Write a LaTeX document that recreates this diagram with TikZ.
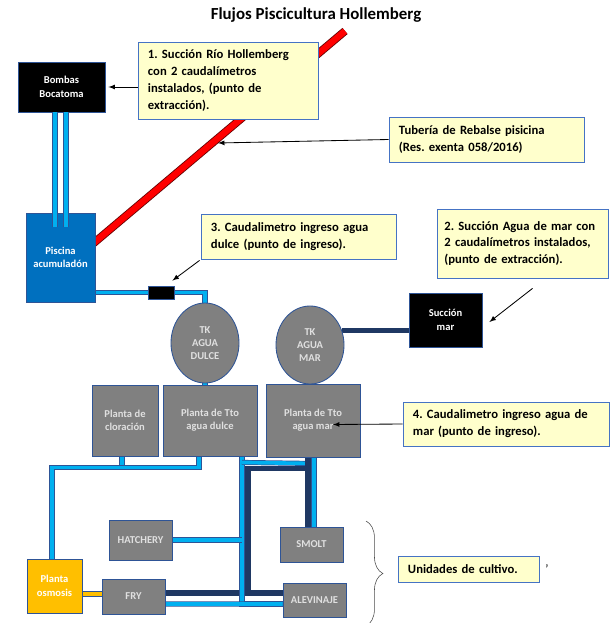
\documentclass[tikz,border=0pt]{standalone}
\usepackage{fontspec}
\setmainfont{Carlito}
\usepackage{tikz}
\usetikzlibrary{arrows}
\usetikzlibrary{calc}
\usetikzlibrary{backgrounds}
\usetikzlibrary{shapes.geometric}
\usetikzlibrary{decorations.pathreplacing}
\frenchspacing
\definecolor{mcallout}{rgb}{1, 1, 0.8}
\definecolor{mframe}{rgb}{0.27, 0.45, 0.77}
\definecolor{mgrey}{rgb}{0.5, 0.5, 0.5}
\definecolor{mlight}{rgb}{0, 0.69, 0.94}
\definecolor{mnavy}{rgb}{0.12, 0.22, 0.39}
\definecolor{mpool}{rgb}{0, 0.44, 0.75}
\definecolor{mgold}{rgb}{1, 0.75, 0}
\definecolor{medge}{rgb}{0.18, 0.33, 0.59}
\definecolor{mtext}{rgb}{0.88, 0.88, 0.88}
\tikzset{unit/.style = {draw = medge, fill = mgrey, text = mtext, line width = 0.6pt, inner sep = 0, align = center, font = \fontsize{7.5}{9.5}\selectfont\bfseries}}
\tikzset{tank/.style = {unit, ellipse}}
\tikzset{callout/.style = {draw = mframe, fill = mcallout, line width = 0.6pt, inner sep = 0, align = left, font = \fontsize{9}{12}\selectfont\bfseries}}
\tikzset{lpipe/.style = {draw = medge, line width = 0.5pt, double = mlight, double distance = 2.6pt}}
\tikzset{ypipe/.style = {draw = medge, line width = 0.5pt, double = mgold, double distance = 2.6pt}}
\tikzset{npipe/.style = {draw = mnavy, line width = 3.6pt}}
\tikzset{rpipe/.style = {draw = black!60!red, line width = 0.6pt, double = red, double distance = 4.5pt}}
\tikzset{arr/.style = {-latex, semithick}}

\begin{document}
\begin{tikzpicture}[x = 0.025cm, y = -0.025cm]
      \path [use as bounding box] (0, 0) rectangle (610, 623);
      \node [font = \fontsize{12}{14}\selectfont\bfseries] (title) at (316, 15) {Flujos Piscicultura Hollemberg};

      % pumps, pool, meter and tanks
      \node [unit, fill = black, text = white, minimum width = 2.175cm, minimum height = 1.25cm] (bombas) at (61.5, 87) {Bombas\\Bocatoma};
      \node [unit, fill = mpool, text = white, minimum width = 1.725cm, minimum height = 2.225cm] (piscina) at (60.5, 257.5) {Piscina\\acumuladón};
      \node [unit, fill = black, minimum width = 0.65cm, minimum height = 0.325cm] (meter) at (161, 292.5) {};
      \node [tank, minimum width = 1.7cm, minimum height = 2cm] (tkdulce) at (205, 343) {TK\\AGUA\\DULCE};
      \node [tank, minimum width = 1.7cm, minimum height = 1.95cm] (tkmar) at (310, 345) {TK\\AGUA\\MAR};
      \node [unit, fill = black, text = white, minimum width = 1.825cm, minimum height = 1.35cm] (succion) at (445.5, 320) {Succión\\mar};

      % treatment plants
      \node [unit, minimum width = 1.65cm, minimum height = 1.775cm] (cloracion) at (125, 420.5) {Planta de\\cloración};
      \node [unit, minimum width = 2.35cm, minimum height = 1.775cm] (tdulce) at (210, 420.5) {Planta de Tto\\agua dulce};
      \node [unit, minimum width = 2.35cm, minimum height = 1.825cm] (tmar) at (313, 420.5) {Planta de Tto\\agua mar};

      % culture units
      \node [unit, fill = mgold, text = white, minimum width = 1.375cm, minimum height = 1.35cm] (osmosis) at (54.5, 586) {Planta\\osmosis};
      \node [unit, minimum width = 1.575cm, minimum height = 1cm] (hatchery) at (140.5, 540) {HATCHERY};
      \node [unit, minimum width = 1.575cm, minimum height = 0.875cm] (fry) at (133.5, 596.5) {FRY};
      \node [unit, minimum width = 1.575cm, minimum height = 0.875cm] (smolt) at (311.5, 544.5) {SMOLT};
      \node [unit, minimum width = 1.575cm, minimum height = 0.85cm] (alevinaje) at (314.5, 600) {ALEVINAJE};

      % junctions
      \coordinate (rtop) at (345, 31);
      \coordinate (vdulce) at ($(tdulce.south)+(32, 0)$);
      \coordinate (nm) at ($(tmar.south)+(-5, 0)$);
      \coordinate (lm) at ($(tmar.south)+(1, 0)$);

      \begin{scope}[on background layer]
        \fill [white] (0, 0) rectangle (610, 623);
        \draw [rpipe] ($(piscina.east)+(-4, -12.5)$) -- (rtop);
        \draw [lpipe] (piscina.east |- meter.west) -- (meter.west);
        \draw [lpipe] (meter.east) -| (tkdulce.north);
        \draw [lpipe] (tkdulce.south) -- (tkdulce.south |- tdulce.north);
        \draw [npipe] (tkmar.south) -- (tkmar.south |- tmar.north);
        \draw [npipe] (tkmar.25) -- (succion.west |- tkmar.25);
        \draw [lpipe] ($(cloracion.south)+(-3, 0)$) -- ++(0, 11);
        \draw [lpipe] ($(tdulce.south)+(-11, 0)$) -- ++(0, 11) -| ($(osmosis.north)+(-2.5, 0)$);
        \draw [ypipe] ($(osmosis.east |- fry.west)+(0, -2.5)$) -- ($(fry.west)+(0, -2.5)$);
        \draw [npipe] ($(nm)+(0, 11)$) -| ($(fry.east -| vdulce)+(6, -3.5)$);
        \draw [npipe] ($(fry.east)+(0, -3.5)$) -- ($(alevinaje.west)+(0, -7)$);
        \draw [lpipe] (vdulce) |- ($(alevinaje.west)+(0, 4)$);
        \draw [lpipe] ($(fry.east)+(0, 7.5)$) -- ($(alevinaje.west)+(0, 4)$);
        \draw [lpipe] (hatchery.east) -- (hatchery.east -| vdulce);
        \draw [lpipe] ($(vdulce)+(0, 6)$) -- ($(nm)+(2, 6)$);
        \draw [lpipe] (lm) -- (lm |- smolt.north);
        \draw [npipe] (nm) -- (nm |- smolt.north);
      \end{scope}

      \draw [lpipe] ($(bombas.south)+(-6.5, 0)$) -- ($(piscina.north)+(-5.5, 14)$);
      \draw [lpipe] ($(bombas.south)+(4.5, 0)$) -- ($(piscina.north)+(5.5, 14)$);

      % callouts
      \node [callout, minimum width = 4.5cm, minimum height = 1.925cm, text width = 4cm] (c1) at (228, 80.5) {1. Succión Río Hollemberg\\con 2 caudalímetros\\instalados, (punto de\\extracción).};
      \node [callout, minimum width = 4.875cm, minimum height = 1.125cm, text width = 4.375cm] (c2) at (486.5, 139.5) {Tubería de Rebalse pisicina\\(Res. exenta 058/2016)};
      \node [callout, minimum width = 4.875cm, minimum height = 1.125cm, text width = 4.375cm] (c3) at (298.5, 236.5) {3. Caudalimetro ingreso agua\\dulce (punto de ingreso).};
      \node [callout, minimum width = 4.275cm, minimum height = 1.725cm, text width = 3.9cm] (c4) at (522.5, 243.5) {2. Succión Agua de mar con\\2 caudalímetros instalados,\\(punto de extracción).};
      \node [callout, minimum width = 5.15cm, minimum height = 1.1cm, text width = 4.65cm] (c5) at (506, 424) {4. Caudalimetro ingreso agua de\\mar (punto de ingreso).};
      \node [callout, minimum width = 3.525cm, minimum height = 0.65cm, text width = 3.025cm] (c6) at (468.5, 569) {Unidades de cultivo.};
      \node [font = \fontsize{9}{9}\selectfont] (tick) at (547, 569) {'};

      \coordinate (rebalse) at (218, 143);
      \draw [arr] (c1.west |- bombas.east) -- ($(bombas.east)+(3, 0)$);
      \draw [arr] (c2.west) -- (rebalse);
      \draw [arr] ($(c3.south west)+(-1, 1)$) -- ($(meter.north east)+(-2, -5)$);
      \draw [arr] ($(c4.south)+(10, 10)$) -- ($(succion.east)+(7, 2)$);
      \draw [arr] (c5.west) -- ($(tmar.center)+(20, 4)$);

      \coordinate (btop) at (366, 521);
      \coordinate (bbot) at (366, 626);
      \draw [decorate, decoration = {brace, amplitude = 12pt}, black!70] (btop) -- (bbot);
    \end{tikzpicture}
\end{document}
